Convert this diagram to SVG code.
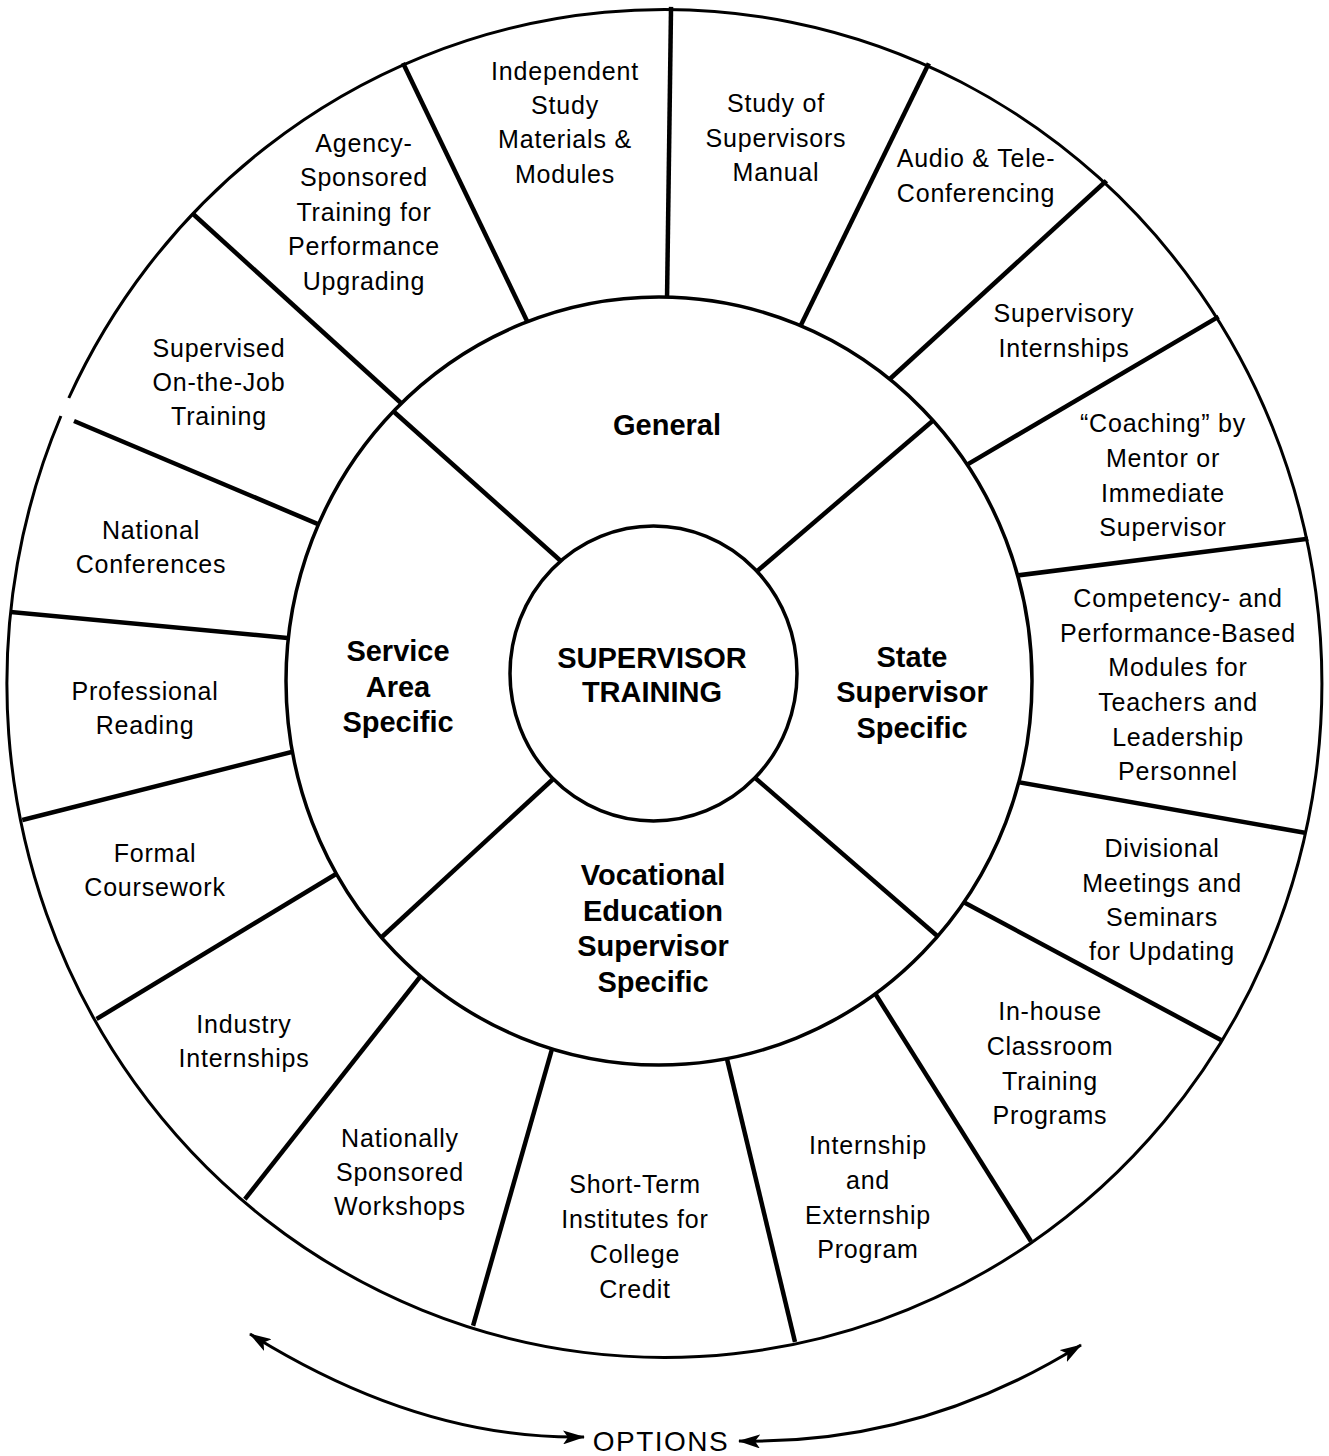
<svg xmlns="http://www.w3.org/2000/svg" width="1329" height="1456" viewBox="0 0 1329 1456">
  <style>
    .ring { fill: none; stroke: #000; }
    .div { stroke: #000; stroke-width: 4.5; stroke-linecap: butt; }
    .opt { font-family: "Liberation Sans", Arial, Helvetica, sans-serif; font-size: 25px; letter-spacing: 0.8px; text-anchor: middle; fill: #000; }
    .hub { font-family: "Liberation Sans", Arial, Helvetica, sans-serif; font-size: 29px; font-weight: bold; text-anchor: middle; fill: #000; }
    .label { font-family: "Liberation Sans", Arial, Helvetica, sans-serif; font-size: 28px; letter-spacing: 1.5px; text-anchor: middle; fill: #000; }
    .arc { fill: none; stroke: #000; stroke-width: 3; }
  </style>
  <defs>
    <!-- annulus between the middle and outer rings -->
    <clipPath id="outerBand">
      <path clip-rule="evenodd" d="M 8 681 A 657.5 674 0 1 0 1323 681 A 657.5 674 0 1 0 8 681 Z M 286 681 A 373 384 0 1 0 1032 681 A 373 384 0 1 0 286 681 Z"/>
    </clipPath>
    <!-- annulus between the hub and the middle ring -->
    <clipPath id="innerBand">
      <path clip-rule="evenodd" d="M 286 681 A 373 384 0 1 0 1032 681 A 373 384 0 1 0 286 681 Z M 510 673.5 A 143.5 147.5 0 1 0 797 673.5 A 143.5 147.5 0 1 0 510 673.5 Z"/>
    </clipPath>
    <marker id="head" viewBox="0 0 22 14" refX="21" refY="7" markerWidth="22" markerHeight="14" markerUnits="userSpaceOnUse" orient="auto-start-reverse">
      <path d="M0,0 L22,7 L0,14 L5,7 Z" fill="#000"/>
    </marker>
  </defs>

  <rect x="0" y="0" width="1329" height="1456" fill="#fff"/>

  <!-- wheel: rings and spokes -->
  <g id="wheel">
    <path class="ring" stroke-width="3" d="M 60.9 416 A 657.5 674 0 1 0 68.8 398"/>
    <ellipse class="ring" stroke-width="3.5" cx="659" cy="681" rx="373" ry="384"/>
    <ellipse class="ring" stroke-width="3.5" cx="653.5" cy="673.5" rx="143.5" ry="147.5"/>

    <g clip-path="url(#outerBand)">
      <line class="div" x1="671.2" y1="-5" x2="666.8" y2="315"/>
      <line class="div" x1="935.6" y1="49.5" x2="793.4" y2="340.5"/>
      <line class="div" x1="1117" y1="171" x2="880" y2="388"/>
      <line class="div" x1="1231" y1="309.4" x2="957" y2="470.6"/>
      <line class="div" x1="1322" y1="537" x2="1005" y2="577"/>
      <line class="div" x1="1321" y1="835.6" x2="1008" y2="780.4"/>
      <line class="div" x1="1234" y1="1047" x2="954" y2="897"/>
      <line class="div" x1="1039" y1="1254" x2="866" y2="979"/>
      <line class="div" x1="798.5" y1="1356.6" x2="723.5" y2="1044.4"/>
      <line class="div" x1="469" y1="1340" x2="556" y2="1035"/>
      <line class="div" x1="235.7" y1="1210.8" x2="429.3" y2="965.2"/>
      <line class="div" x1="85" y1="1026" x2="346" y2="868"/>
      <line class="div" x1="7.5" y1="823.7" x2="306.5" y2="748.3"/>
      <line class="div" x1="-5" y1="610.6" x2="303" y2="639.4"/>
      <line class="div" x1="74" y1="421" x2="332" y2="530"/>
      <line class="div" x1="181" y1="203" x2="412" y2="413"/>
      <line class="div" x1="396.5" y1="49.5" x2="533.5" y2="334.5"/>
    </g>

    <g clip-path="url(#innerBand)">
      <line class="div" stroke-width="4" x1="572" y1="571" x2="383" y2="402"/>
      <line class="div" stroke-width="4" x1="748" y1="579" x2="943" y2="412"/>
      <line class="div" stroke-width="4" x1="564" y1="769" x2="371" y2="947"/>
      <line class="div" stroke-width="4" x1="746" y1="770" x2="950" y2="947"/>
    </g>
  </g>

  <!-- hub and the four areas -->
  <g id="hub">
    <text class="hub" x="652" y="668">SUPERVISOR</text>
    <text class="hub" x="652" y="702">TRAINING</text>
  </g>
  <g id="area-general">
    <text class="hub" x="667" y="435">General</text>
  </g>
  <g id="area-state">
    <text class="hub" x="912" y="667">State</text>
    <text class="hub" x="912" y="702">Supervisor</text>
    <text class="hub" x="912" y="738">Specific</text>
  </g>
  <g id="area-vocational">
    <text class="hub" x="653" y="885">Vocational</text>
    <text class="hub" x="653" y="921">Education</text>
    <text class="hub" x="653" y="956">Supervisor</text>
    <text class="hub" x="653" y="992">Specific</text>
  </g>
  <g id="area-service">
    <text class="hub" x="398" y="661">Service</text>
    <text class="hub" x="398" y="697">Area</text>
    <text class="hub" x="398" y="732">Specific</text>
  </g>

  <!-- outer ring options -->
  <g id="opt-independent-study">
    <text class="opt" x="565" y="80">Independent</text>
    <text class="opt" x="565" y="114">Study</text>
    <text class="opt" x="565" y="148">Materials &amp;</text>
    <text class="opt" x="565" y="183">Modules</text>
  </g>
  <g id="opt-manual">
    <text class="opt" x="776" y="112">Study of</text>
    <text class="opt" x="776" y="147">Supervisors</text>
    <text class="opt" x="776" y="181">Manual</text>
  </g>
  <g id="opt-teleconferencing">
    <text class="opt" x="976" y="167">Audio &amp; Tele-</text>
    <text class="opt" x="976" y="202">Conferencing</text>
  </g>
  <g id="opt-supervisory-internships">
    <text class="opt" x="1064" y="322">Supervisory</text>
    <text class="opt" x="1064" y="357">Internships</text>
  </g>
  <g id="opt-coaching">
    <text class="opt" x="1163" y="432">“Coaching” by</text>
    <text class="opt" x="1163" y="467">Mentor or</text>
    <text class="opt" x="1163" y="502">Immediate</text>
    <text class="opt" x="1163" y="536">Supervisor</text>
  </g>
  <g id="opt-competency-modules">
    <text class="opt" x="1178" y="607">Competency- and</text>
    <text class="opt" x="1178" y="642">Performance-Based</text>
    <text class="opt" x="1178" y="676">Modules for</text>
    <text class="opt" x="1178" y="711">Teachers and</text>
    <text class="opt" x="1178" y="746">Leadership</text>
    <text class="opt" x="1178" y="780">Personnel</text>
  </g>
  <g id="opt-divisional-meetings">
    <text class="opt" x="1162" y="857">Divisional</text>
    <text class="opt" x="1162" y="892">Meetings and</text>
    <text class="opt" x="1162" y="926">Seminars</text>
    <text class="opt" x="1162" y="960">for Updating</text>
  </g>
  <g id="opt-inhouse-training">
    <text class="opt" x="1050" y="1020">In-house</text>
    <text class="opt" x="1050" y="1055">Classroom</text>
    <text class="opt" x="1050" y="1090">Training</text>
    <text class="opt" x="1050" y="1124">Programs</text>
  </g>
  <g id="opt-externship">
    <text class="opt" x="868" y="1154">Internship</text>
    <text class="opt" x="868" y="1189">and</text>
    <text class="opt" x="868" y="1224">Externship</text>
    <text class="opt" x="868" y="1258">Program</text>
  </g>
  <g id="opt-short-term-institutes">
    <text class="opt" x="635" y="1193">Short-Term</text>
    <text class="opt" x="635" y="1228">Institutes for</text>
    <text class="opt" x="635" y="1263">College</text>
    <text class="opt" x="635" y="1298">Credit</text>
  </g>
  <g id="opt-national-workshops">
    <text class="opt" x="400" y="1147">Nationally</text>
    <text class="opt" x="400" y="1181">Sponsored</text>
    <text class="opt" x="400" y="1215">Workshops</text>
  </g>
  <g id="opt-industry-internships">
    <text class="opt" x="244" y="1033">Industry</text>
    <text class="opt" x="244" y="1067">Internships</text>
  </g>
  <g id="opt-coursework">
    <text class="opt" x="155" y="862">Formal</text>
    <text class="opt" x="155" y="896">Coursework</text>
  </g>
  <g id="opt-reading">
    <text class="opt" x="145" y="700">Professional</text>
    <text class="opt" x="145" y="734">Reading</text>
  </g>
  <g id="opt-conferences">
    <text class="opt" x="151" y="539">National</text>
    <text class="opt" x="151" y="573">Conferences</text>
  </g>
  <g id="opt-ojt">
    <text class="opt" x="219" y="357">Supervised</text>
    <text class="opt" x="219" y="391">On-the-Job</text>
    <text class="opt" x="219" y="425">Training</text>
  </g>
  <g id="opt-agency-training">
    <text class="opt" x="364" y="152">Agency-</text>
    <text class="opt" x="364" y="186">Sponsored</text>
    <text class="opt" x="364" y="221">Training for</text>
    <text class="opt" x="364" y="255">Performance</text>
    <text class="opt" x="364" y="290">Upgrading</text>
  </g>

  <g id="options-label">
    <text class="label" x="661" y="1451">OPTIONS</text>
  </g>

  <!-- curved double-headed arrows -->
  <g id="connectors">
    <path class="arc" d="M 250 1334 Q 420 1440 584 1437" marker-start="url(#head)" marker-end="url(#head)"/>
    <path class="arc" d="M 1081 1345 Q 920 1445 739 1441" marker-start="url(#head)" marker-end="url(#head)"/>
  </g>
</svg>
